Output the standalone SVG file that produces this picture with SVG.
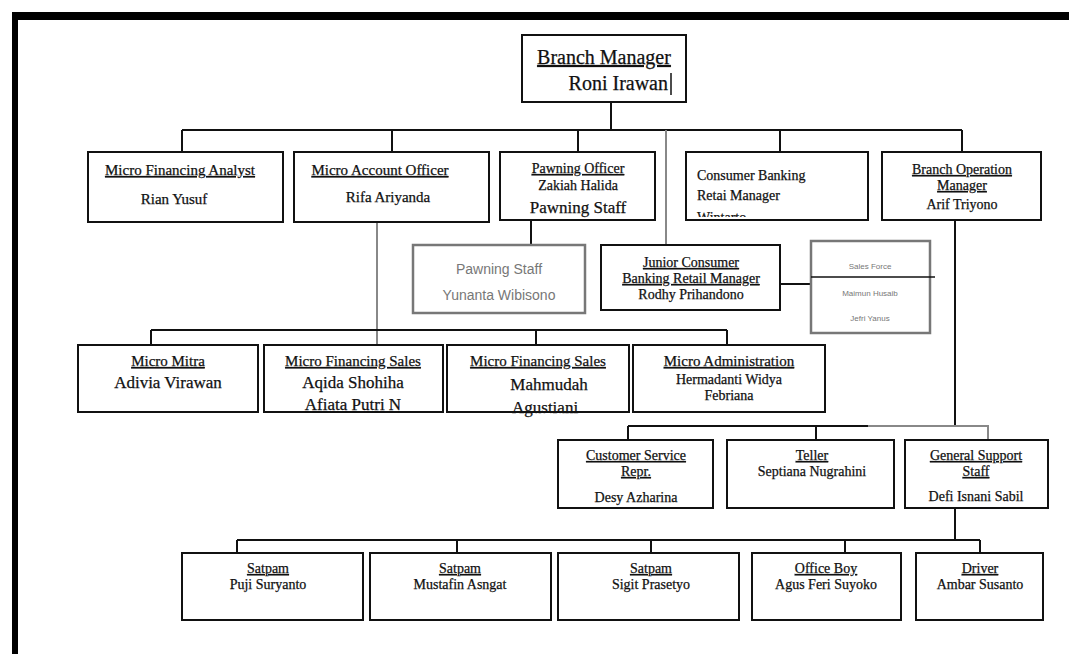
<svg xmlns="http://www.w3.org/2000/svg" width="1069" height="654" viewBox="0 0 1069 654">
<style>
.box{fill:#fff;stroke:#111;stroke-width:2}
.gbox{fill:#fff;stroke:#777;stroke-width:2.5}
.t{font-family:"Liberation Serif","Times New Roman",serif;font-size:14px;fill:#111;text-anchor:middle;stroke:#111;stroke-width:0.25}
.u{text-decoration:underline}
.big{font-size:17px}
.g{font-family:"Liberation Sans",Arial,sans-serif;fill:#777;text-anchor:middle}
.ln{stroke:#111;stroke-width:2;fill:none}
.gl{stroke:#888;stroke-width:2;fill:none}
</style>
<defs>
<clipPath id="cbclip"><rect x="686" y="152" width="182" height="65"/></clipPath>
</defs>
<rect x="0" y="0" width="1069" height="654" fill="#fff"/>
<!-- frame -->
<rect x="12" y="12" width="1057" height="8" fill="#000"/>
<rect x="12" y="12" width="6" height="642" fill="#000"/>

<g id="connectors">
<path class="ln" d="M611 102V130M182 130H962M182 130V152M392 130V152M578 130V152M780 130V152M962 130V152"/>
<path class="gl" d="M666 130V245"/>
<path class="ln" d="M531 220V245"/>
<path class="ln" d="M780 284H811"/>
<path class="gl" d="M377 222V345"/>
<path class="ln" d="M151 330H727M151 330V345M536 330V345M727 330V345"/>
<path class="ln" d="M955 220V426M628 426H868M628 426V440M816 426V440"/>
<path class="gl" d="M868 426H988V440"/>
<path class="ln" d="M955 508V540M237 540H980M237 540V553M457 540V553M651 540V553M845 540V553M980 540V553"/>
</g>

<g id="branch-manager">
<rect class="box" x="522" y="35" width="164" height="67"/>
<text class="t u" x="604" y="64" style="font-size:20px">Branch Manager</text>
<text class="t" x="668" y="90" style="font-size:20px;text-anchor:end">Roni Irawan</text>
<line x1="671" y1="73" x2="671" y2="95" stroke="#111" stroke-width="1.5"/>
</g>

<g id="micro-financing-analyst">
<rect class="box" x="88" y="152" width="195" height="70"/>
<text class="t u" x="180" y="175" style="font-size:15px">Micro Financing Analyst</text>
<text class="t" x="174" y="204" style="font-size:15px">Rian Yusuf</text>
</g>

<g id="micro-account-officer">
<rect class="box" x="294" y="152" width="195" height="70"/>
<text class="t u" x="380" y="175" style="font-size:15px">Micro Account Officer</text>
<text class="t" x="388" y="202" style="font-size:15px">Rifa Ariyanda</text>
</g>

<g id="pawning-officer">
<rect class="box" x="500" y="152" width="155" height="68"/>
<text class="t u" x="578" y="173">Pawning Officer</text>
<text class="t" x="578" y="190">Zakiah Halida</text>
<text class="t big" x="578" y="213">Pawning Staff</text>
</g>

<g id="consumer-banking">
<rect class="box" x="686" y="152" width="182" height="68"/>
<g clip-path="url(#cbclip)">
<text class="t" x="697" y="180" style="text-anchor:start">Consumer Banking</text>
<text class="t" x="697" y="200" style="text-anchor:start">Retai Manager</text>
<text class="t" x="697" y="222" style="text-anchor:start">Wintarto</text>
</g>
</g>

<g id="branch-operation-manager">
<rect class="box" x="882" y="152" width="159" height="68"/>
<text class="t u" x="962" y="174">Branch Operation</text>
<text class="t u" x="962" y="190">Manager</text>
<text class="t" x="962" y="209">Arif Triyono</text>
</g>

<g id="pawning-staff">
<rect class="gbox" x="413" y="245" width="172" height="68"/>
<text class="g" x="499" y="274" style="font-size:14px">Pawning Staff</text>
<text class="g" x="499" y="300" style="font-size:14px">Yunanta Wibisono</text>
</g>

<g id="junior-consumer">
<rect class="box" x="601" y="245" width="179" height="65"/>
<text class="t u" x="691" y="267">Junior Consumer</text>
<text class="t u" x="691" y="283">Banking Retail Manager</text>
<text class="t" x="691" y="299">Rodhy Prihandono</text>
</g>

<g id="sales-force">
<rect class="gbox" x="811" y="241" width="119" height="92"/>
<line x1="811" y1="277" x2="935" y2="277" stroke="#111" stroke-width="1.5"/>
<text class="g" x="870" y="269" style="font-size:8px">Sales Force</text>
<text class="g" x="870" y="296" style="font-size:8px">Maimun Husaib</text>
<text class="g" x="870" y="321" style="font-size:8px">Jefri Yanus</text>
</g>

<g id="micro-mitra">
<rect class="box" x="78" y="345" width="180" height="67"/>
<text class="t u" x="168" y="366" style="font-size:15px">Micro Mitra</text>
<text class="t big" x="168" y="388">Adivia Virawan</text>
</g>

<g id="micro-financing-sales-1">
<rect class="box" x="264" y="345" width="179" height="67"/>
<text class="t u" x="353" y="366" style="font-size:15px">Micro Financing Sales</text>
<text class="t big" x="353" y="388">Aqida Shohiha</text>
<text class="t big" x="353" y="410">Afiata Putri N</text>
</g>

<g id="micro-financing-sales-2">
<rect class="box" x="447" y="345" width="182" height="67"/>
<text class="t u" x="538" y="366" style="font-size:15px">Micro Financing Sales</text>
<text class="t big" x="549" y="390">Mahmudah</text>
<text class="t big" x="512" y="413" style="text-anchor:start">Agustiani</text>
</g>

<g id="micro-administration">
<rect class="box" x="633" y="345" width="192" height="67"/>
<text class="t u" x="729" y="366" style="font-size:15px">Micro Administration</text>
<text class="t" x="729" y="384">Hermadanti Widya</text>
<text class="t" x="729" y="400">Febriana</text>
</g>

<g id="customer-service">
<rect class="box" x="558" y="440" width="155" height="68"/>
<text class="t u" x="636" y="460">Customer Service</text>
<text class="t u" x="636" y="476">Repr.</text>
<text class="t" x="636" y="502">Desy Azharina</text>
</g>

<g id="teller">
<rect class="box" x="727" y="440" width="167" height="68"/>
<text class="t u" x="812" y="460">Teller</text>
<text class="t" x="812" y="476">Septiana Nugrahini</text>
</g>

<g id="general-support">
<rect class="box" x="905" y="440" width="143" height="68"/>
<text class="t u" x="976" y="460">General Support</text>
<text class="t u" x="976" y="476">Staff</text>
<text class="t" x="976" y="501">Defi Isnani Sabil</text>
</g>

<g id="satpam-1">
<rect class="box" x="182" y="553" width="181" height="67"/>
<text class="t u" x="268" y="573">Satpam</text>
<text class="t" x="268" y="589">Puji Suryanto</text>
</g>

<g id="satpam-2">
<rect class="box" x="370" y="553" width="181" height="67"/>
<text class="t u" x="460" y="573">Satpam</text>
<text class="t" x="460" y="589">Mustafin Asngat</text>
</g>

<g id="satpam-3">
<rect class="box" x="558" y="553" width="181" height="67"/>
<text class="t u" x="651" y="573">Satpam</text>
<text class="t" x="651" y="589">Sigit Prasetyo</text>
</g>

<g id="office-boy">
<rect class="box" x="752" y="553" width="149" height="67"/>
<text class="t u" x="826" y="573">Office Boy</text>
<text class="t" x="826" y="589">Agus Feri Suyoko</text>
</g>

<g id="driver">
<rect class="box" x="916" y="553" width="127" height="67"/>
<text class="t u" x="980" y="573">Driver</text>
<text class="t" x="980" y="589">Ambar Susanto</text>
</g>
</svg>
